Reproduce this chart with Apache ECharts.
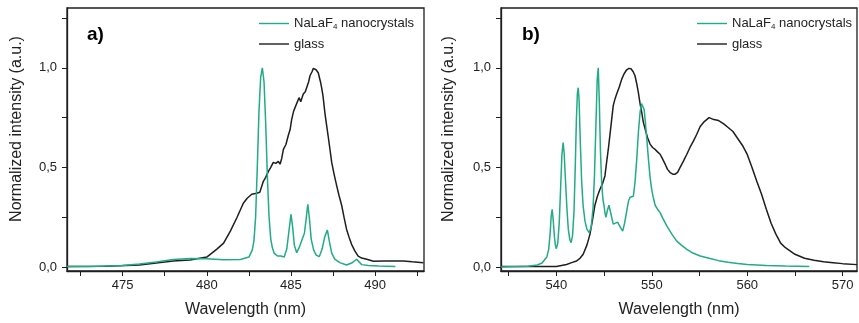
<!DOCTYPE html>
<html>
<head>
<meta charset="utf-8">
<script src="https://cdn.jsdelivr.net/npm/echarts@6/dist/echarts.min.js"></script>
<style>
html,body{margin:0;padding:0;background:#fff;}
#c{width:859px;height:323px;}
</style>
</head>
<body>
<div id="c"></div>
<script>
// ---------- Data (panel a: 470–493 nm) ----------
const aNanoX = [471.7,473,475,476,477,478,479,480,481,482,482.5,482.7,482.8,482.9,483.0,483.1,483.2,483.3,483.4,483.5,483.6,483.7,483.8,483.9,484.0,484.2,484.4,484.6,484.75,484.88,485.0,485.1,485.2,485.34,485.5,485.65,485.8,485.9,486.0,486.1,486.2,486.35,486.5,486.68,486.85,487.0,487.16,487.3,487.42,487.6,487.9,488.3,488.6,488.9,489.2,489.6,490.2,491.2];
const aNanoY = [0.002,0.003,0.008,0.015,0.025,0.038,0.043,0.042,0.037,0.038,0.05,0.085,0.13,0.25,0.5,0.78,0.95,1.0,0.93,0.72,0.45,0.25,0.14,0.095,0.07,0.055,0.055,0.05,0.09,0.18,0.265,0.2,0.11,0.072,0.1,0.135,0.17,0.24,0.315,0.24,0.14,0.085,0.06,0.052,0.09,0.15,0.186,0.12,0.07,0.04,0.022,0.01,0.02,0.039,0.012,0.008,0.005,0.002];
const aGlassX = [471.7,474,476,478,479,480,480.6,481.0,481.4,481.8,482.17,482.4,482.67,482.96,483.15,483.36,483.5,483.66,483.8,483.95,484.1,484.25,484.35,484.45,484.55,484.7,484.84,484.95,485.04,485.15,485.24,485.34,485.48,485.58,485.73,485.85,485.97,486.05,486.13,486.25,486.33,486.42,486.49,486.62,486.75,486.82,486.9,487.02,487.12,487.22,487.42,487.55,487.71,487.85,488.01,488.15,488.3,488.45,488.6,488.8,488.99,489.2,489.5,489.9,490.5,491.0,491.67,492.2,492.86];
const aGlassY = [0.002,0.004,0.01,0.03,0.035,0.05,0.09,0.12,0.18,0.25,0.32,0.345,0.365,0.37,0.375,0.43,0.45,0.48,0.5,0.525,0.52,0.53,0.516,0.545,0.59,0.615,0.66,0.69,0.74,0.78,0.80,0.79,0.85,0.83,0.868,0.88,0.91,0.93,0.96,0.98,0.997,0.995,0.99,0.975,0.93,0.90,0.86,0.77,0.71,0.65,0.525,0.47,0.41,0.36,0.31,0.25,0.19,0.15,0.114,0.08,0.055,0.045,0.039,0.029,0.03,0.03,0.03,0.026,0.022];

// ---------- Data (panel b: 535–571 nm) ----------
const bNanoX = [534.2,536,537,538,538.5,539.0,539.2,539.35,539.45,539.56,539.68,539.8,539.9,540.0,540.15,540.3,540.45,540.58,540.71,540.82,540.95,541.1,541.25,541.4,541.55,541.7,541.85,541.98,542.1,542.2,542.29,542.38,542.5,542.65,542.8,543.0,543.2,543.44,543.65,543.85,544.0,544.15,544.28,544.39,544.5,544.62,544.75,544.88,544.99,545.1,545.2,545.35,545.51,545.7,545.96,546.2,546.42,546.7,546.95,547.15,547.37,547.55,547.72,547.9,548.07,548.25,548.42,548.6,548.77,548.92,549.05,549.2,549.33,549.5,549.65,549.82,549.99,550.15,550.35,550.6,550.87,551.2,551.57,552.1,552.62,553.1,553.67,554.3,555.07,556,557,558,559,560,562,564,566.5];
const bNanoY = [0.0,0.002,0.004,0.01,0.02,0.05,0.09,0.17,0.25,0.29,0.23,0.15,0.11,0.092,0.12,0.22,0.4,0.56,0.625,0.57,0.44,0.3,0.19,0.14,0.122,0.16,0.28,0.5,0.74,0.87,0.9,0.84,0.64,0.43,0.31,0.23,0.19,0.173,0.2,0.3,0.47,0.72,0.94,1.0,0.83,0.58,0.42,0.34,0.31,0.27,0.25,0.285,0.31,0.27,0.215,0.22,0.225,0.2,0.18,0.22,0.28,0.33,0.35,0.35,0.355,0.43,0.54,0.68,0.775,0.82,0.826,0.79,0.725,0.63,0.54,0.45,0.39,0.35,0.31,0.29,0.273,0.24,0.206,0.165,0.13,0.11,0.089,0.07,0.055,0.044,0.032,0.024,0.018,0.013,0.008,0.005,0.003];
const bGlassX = [534.2,538,540,541.07,541.6,542.12,542.5,542.81,543.2,543.52,543.8,544.04,544.3,544.57,544.85,545.09,545.25,545.44,545.7,545.96,546.15,546.32,546.6,546.85,547.1,547.37,547.6,547.82,548.05,548.24,548.4,548.59,548.77,548.95,549.1,549.3,549.55,549.82,550.08,550.35,550.6,550.87,551.1,551.4,551.65,551.92,552.2,552.45,552.7,552.97,553.3,553.67,554.0,554.37,554.7,555.07,555.5,556.0,556.5,557.0,557.5,558.0,558.5,559.0,559.5,560.0,560.5,561.0,561.5,562.0,562.5,563.0,563.5,564.0,565.0,566.0,567.0,568.0,569.0,570.0,571.5];
const bGlassY = [0.002,0.002,0.003,0.013,0.022,0.03,0.045,0.064,0.11,0.164,0.24,0.31,0.355,0.39,0.42,0.457,0.52,0.59,0.7,0.81,0.845,0.868,0.905,0.943,0.97,0.99,0.997,0.995,0.98,0.96,0.925,0.876,0.82,0.775,0.73,0.692,0.65,0.617,0.6,0.59,0.578,0.566,0.545,0.516,0.49,0.474,0.466,0.466,0.475,0.5,0.53,0.566,0.6,0.633,0.665,0.705,0.73,0.75,0.74,0.735,0.72,0.70,0.68,0.645,0.61,0.565,0.5,0.43,0.365,0.29,0.22,0.165,0.12,0.097,0.064,0.044,0.034,0.027,0.022,0.017,0.012];

// ---------- Axis tick lists ----------
const yTicks = [0, 0.25, 0.5, 0.75, 1.0, 1.25];
const yLabels = [0, 0.5, 1.0];
const aXTicks = [472.5,475,477.5,480,482.5,485,487.5,490,492.5];
const aXLabels = [475,480,485,490];
const bXTicks = [535,540,545,550,555,560,565,570];
const bXLabels = [540,550,560,570];

const seriesNames = ['NaLaF4 nanocrystals', 'glass'];
const panelLabels = ['a)', 'b)'];
const axisTitleX = 'Wavelength (nm)';
const axisTitleY = 'Normalized intensity (a.u.)';

const GREEN = '#22ab86';
const DARK = '#1e1e1e';
const FONT = '"Liberation Sans", Arial, Helvetica, sans-serif';

function pairs(xs, ys){ return xs.map((x,i)=>[x, ys[i]]); }

function xAxisCfg(idx, min, max, ticks, labels){
  return {
    type:'value', gridIndex: idx, min:min, max:max,
    axisLine:{show:true, onZero:false, lineStyle:{color:DARK, width:1.3}},
    axisTick:{show:true, inside:false, length:5, customValues:ticks, lineStyle:{color:DARK, width:1}},
    axisLabel:{show:true, customValues:labels, margin:8, color:'#222', fontSize:13, fontFamily:FONT, formatter:v=>String(v)},
    splitLine:{show:false},
    name: axisTitleX, nameLocation:'middle', nameGap:31,
    nameTextStyle:{color:'#222', fontSize:16, fontFamily:FONT}
  };
}
function yAxisCfg(idx){
  return {
    type:'value', gridIndex: idx, min:-0.02, max:1.3,
    axisLine:{show:true, onZero:false, lineStyle:{color:DARK, width:1.3}},
    axisTick:{show:true, inside:false, length:5, customValues:yTicks, lineStyle:{color:DARK, width:1}},
    axisLabel:{show:true, customValues:yLabels, margin:10, color:'#222', fontSize:13, fontFamily:FONT,
      formatter:v=>v.toFixed(1).replace('.', ',')},
    splitLine:{show:false}
  };
}
function lineSeries(name, data, color, xi){
  return {type:'line', name:name, xAxisIndex:xi, yAxisIndex:xi, data:data,
    symbol:'none', showSymbol:false, clip:true,
    lineStyle:{color:color, width:1.5}, itemStyle:{color:color}};
}
function legendCfg(left){
  return {
    orient:'vertical', left:left, top:16, padding:0, itemWidth:30, itemHeight:14, itemGap:6,
    icon:'path://M0,6.4L30,6.4L30,7.8L0,7.8Z',
    data:[{name:seriesNames[0], itemStyle:{color:GREEN}}, {name:seriesNames[1], itemStyle:{color:DARK}}],
    selectedMode:false,
    formatter: n => n === seriesNames[0] ? 'NaLaF{sub|4} nanocrystals' : n,
    textStyle:{color:'#222', fontSize:13, fontFamily:FONT, lineHeight:14,
      rich:{sub:{fontSize:8, fontFamily:FONT, color:'#222', padding:[7,0,0,0], lineHeight:14}}}
  };
}

const chart = echarts.init(document.getElementById('c'), null, {renderer:'canvas'});
chart.setOption({
  animation:false,
  backgroundColor:'#fff',
  grid:[
    {left:67, right:435, top:8, bottom:51, show:true, borderColor:DARK, borderWidth:1.3, backgroundColor:'transparent'},
    {left:501, right:2, top:8, bottom:51, show:true, borderColor:DARK, borderWidth:1.3, backgroundColor:'transparent'}
  ],
  xAxis:[ xAxisCfg(0, 471.7, 492.9, aXTicks, aXLabels), xAxisCfg(1, 534.2, 571.5, bXTicks, bXLabels) ],
  yAxis:[ yAxisCfg(0), yAxisCfg(1) ],
  legend:[ legendCfg(259), legendCfg(697) ],
  graphic:[
    {type:'text', left:87, top:25, style:{text:panelLabels[0], font:'bold 19px '+FONT, fill:'#000'}},
    {type:'text', left:522, top:25, style:{text:panelLabels[1], font:'bold 19px '+FONT, fill:'#000'}},
    {type:'text', x:17, y:129, rotation:Math.PI/2, style:{text:axisTitleY, font:'16px '+FONT, fill:'#222', align:'center', verticalAlign:'middle'}},
    {type:'text', x:449, y:129, rotation:Math.PI/2, style:{text:axisTitleY, font:'16px '+FONT, fill:'#222', align:'center', verticalAlign:'middle'}}
  ],
  series:[
    lineSeries(seriesNames[1], pairs(aGlassX, aGlassY), DARK, 0),
    lineSeries(seriesNames[0], pairs(aNanoX, aNanoY), GREEN, 0),
    lineSeries(seriesNames[1], pairs(bGlassX, bGlassY), DARK, 1),
    lineSeries(seriesNames[0], pairs(bNanoX, bNanoY), GREEN, 1)
  ]
});
</script>
</body>
</html>
